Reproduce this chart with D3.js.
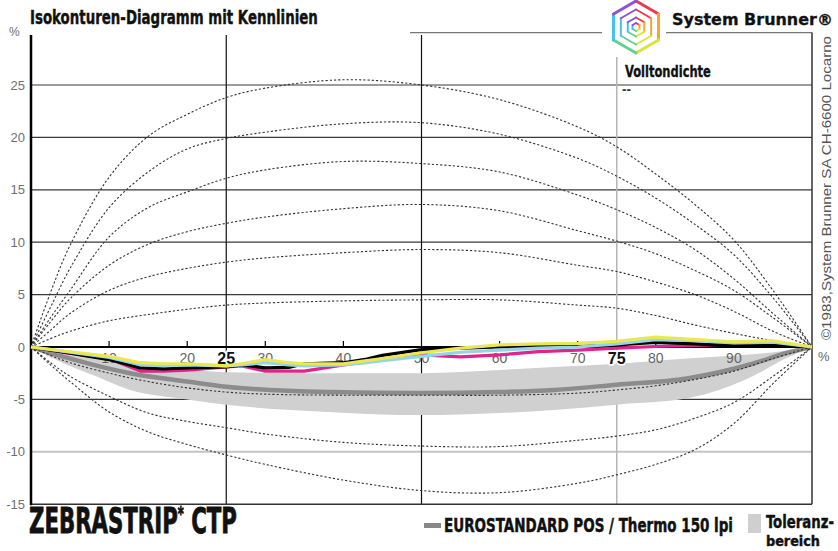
<!DOCTYPE html>
<html><head><meta charset="utf-8">
<script src="https://cdn.jsdelivr.net/npm/d3@7"></script>
<style>body{margin:0;background:#fff}svg{display:block}</style>
</head><body>
<script>
// ---------- data ----------
const yTicks = [-15,-10,-5,0,5,10,15,20,25];
const xTickLabels = [10,20,30,40,50,60,70,80,90];
const xBoldLabels = [25,75];

// iso-contour dotted curves (value at isoX)
const isoX = [0,2.5,5,10,15,20,25,30,40,50,60,70,75,80,85,90,95,100];
const isoA = [0,5.2,9.7,16.2,20.1,22.2,23.8,24.7,25.5,25.0,23.6,21.0,19.1,16.5,13.6,10.2,5.4,0];
const isoB = [0,3.8,7.5,13.3,16.7,18.9,19.9,20.5,21.3,21.4,20.3,18.0,16.3,14.2,11.7,8.8,4.7,0];
const isoC = [0,2.8,5.4,10.5,13.3,14.8,16.1,16.9,17.7,17.5,16.7,14.5,13.1,11.4,9.3,6.5,3.2,0];
const isoD = [0,2.4,4.6,7.8,9.8,11.0,11.8,12.4,13.2,13.6,13.0,11.1,10.1,8.9,7.3,5.4,2.8,0];
const isoE = [0,1.6,3.2,5.4,6.7,7.5,8.1,8.5,9.0,9.3,9.0,7.8,7.2,6.2,5.0,3.4,1.5,0];
const isoF = [0,0.8,1.5,2.5,3.1,3.6,4.0,4.2,4.4,4.5,4.5,4.0,3.7,3.0,2.1,1.3,0.6,0];
const isoG = [0,-0.8,-1.5,-2.5,-3.3,-3.9,-4.3,-4.5,-4.6,-4.6,-4.6,-4.4,-4.1,-3.7,-3.1,-2.3,-1.1,0];
const isoH = [0,-1.5,-2.8,-4.7,-6.3,-7.1,-7.7,-8.3,-9.1,-9.45,-9.5,-8.9,-8.5,-7.9,-6.8,-5.3,-2.8,0];
const isoI = [0,-1.7,-3.3,-6.2,-8.1,-9.3,-10.3,-11.2,-12.7,-13.7,-13.9,-13.0,-12.2,-11.2,-9.8,-7.3,-3.5,0];

// EUROSTANDARD reference + tolerance band
const stdX  = [0,4,8,12.7,20,25,38,50,60,67,75,84,92.4,96.6,100];
const stdY  = [0,-0.9,-1.7,-2.5,-3.3,-3.8,-4.3,-4.4,-4.3,-4.1,-3.6,-3.0,-1.6,-0.6,0];
const tolHi = [0,-0.5,-1.0,-1.6,-2.1,-2.4,-2.5,-2.5,-2.2,-1.9,-1.6,-1.1,-0.7,-0.35,0];
const tolLo = [0,-1.5,-2.7,-4.1,-5.0,-5.5,-6.2,-6.5,-6.3,-6.0,-5.5,-4.9,-2.8,-1.1,0];

// measured process colours
const inkX    = [0,5,10,14,17,20,25,27,30,33,35,40,43,45,50,55,60,65,70,75,80,85,90,95,100];
const yellow  = [0,-0.45,-0.9,-1.5,-1.6,-1.6,-1.8,-1.6,-1.2,-1.5,-1.6,-1.6,-1.3,-1.1,-0.55,-0.1,0.2,0.3,0.35,0.55,0.95,0.7,0.5,0.6,0];
const cyan    = [0,-0.5,-1.0,-1.7,-1.75,-1.7,-1.8,-1.7,-1.5,-1.7,-1.8,-1.7,-1.5,-1.3,-0.9,-0.5,-0.3,-0.1,0.0,0.3,0.7,0.6,0.4,0.45,0];
const black   = [0,-0.6,-1.2,-2.0,-2.1,-2.0,-1.9,-1.7,-2.0,-1.95,-1.6,-1.5,-1.15,-0.8,-0.25,-0.1,0,0.05,0.05,0.2,0.45,0.3,0.1,0.15,0];
const magenta = [0,-0.6,-1.1,-2.3,-2.3,-2.2,-1.9,-1.8,-2.3,-2.3,-2.3,-1.7,-1.4,-1.2,-0.75,-0.95,-0.75,-0.45,-0.3,-0.1,0.05,0.15,0.25,0.35,0];

// ---------- drawing ----------
const W = 838, H = 551;
const svg = d3.select("body").append("svg").attr("width", W).attr("height", H)
  .style("font-family", "'Liberation Sans', Arial, sans-serif");
svg.append("rect").attr("width", W).attr("height", H).attr("fill", "#fff");

const x = d3.scaleLinear().domain([0,100]).range([31,812]);
const y = d3.scaleLinear().domain([-15,30]).range([504.2,32.6]);
const narrow = "'DejaVu Sans Condensed','Liberation Sans',Arial,sans-serif";

// squeeze a text horizontally to a target width (condensed-type look)
function fit(t, w) {
  const len = t.node().getComputedTextLength();
  const x0 = +t.attr("x");
  const s = w / len;
  t.attr("transform", `translate(${x0},0) scale(${s},1) translate(${-x0},0)`);
  return t;
}
function heavy(t, sw) { return t.attr("stroke", "#111").attr("stroke-width", sw || 0.5); }

// horizontal grid
svg.append("g").selectAll("line").data(yTicks.filter(v => v !== 0 && v !== -15)).join("line")
  .attr("x1", x(0)).attr("x2", x(100)).attr("y1", d => y(d)).attr("y2", d => y(d))
  .attr("stroke", d => d === -10 ? "#c4c4c4" : "#3a3a3a").attr("stroke-width", d => d === -10 ? 2 : 1.2);

// top frame line
svg.append("line").attr("x1", 410).attr("x2", x(100)).attr("y1", y(30)).attr("y2", y(30))
  .attr("stroke", "#777").attr("stroke-width", 1.2);

// vertical lines
[25,50].forEach(v => svg.append("line").attr("x1", x(v)).attr("x2", x(v)).attr("y1", 35).attr("y2", y(-15))
  .attr("stroke", "#111").attr("stroke-width", 1.2));
svg.append("line").attr("x1", x(75)).attr("x2", x(75)).attr("y1", 57).attr("y2", y(-15))
  .attr("stroke", "#b5b5b5").attr("stroke-width", 1.5);
svg.append("line").attr("x1", x(100)).attr("x2", x(100)).attr("y1", y(30)).attr("y2", y(-15))
  .attr("stroke", "#333").attr("stroke-width", 1.5);
svg.append("line").attr("x1", x(0)).attr("x2", x(100)).attr("y1", y(-15)).attr("y2", y(-15))
  .attr("stroke", "#333").attr("stroke-width", 1.5);

// y labels
svg.append("g").selectAll("text").data(yTicks).join("text")
  .attr("x", 25).attr("y", d => y(d)).attr("dy", "0.35em").attr("text-anchor", "end")
  .attr("font-size", 13).attr("fill", "#707070").text(d => d);
svg.append("text").attr("x", 9).attr("y", 36).attr("font-size", 12).attr("fill", "#707070").text("%");

// tolerance band
const bandData = stdX.map((v,i) => ({x:v, hi:tolHi[i], lo:tolLo[i]}));
svg.append("path").datum(bandData)
  .attr("d", d3.area().x(d => x(d.x)).y0(d => y(d.lo)).y1(d => y(d.hi)).curve(d3.curveMonotoneX))
  .attr("fill", "#d0d0d0");
svg.append("path").datum(stdX.map((v,i) => [v, stdY[i]]))
  .attr("d", d3.line().x(d => x(d[0])).y(d => y(d[1])).curve(d3.curveMonotoneX))
  .attr("fill", "none").attr("stroke", "#8c8c8c").attr("stroke-width", 4.5);

// dotted iso curves
const isoLine = d3.line().x(d => x(d[0])).y(d => y(d[1])).curve(d3.curveCatmullRom.alpha(0.5));
[isoA,isoB,isoC,isoD,isoE,isoF,isoG,isoH,isoI].forEach(arr => {
  svg.append("path").datum(isoX.map((v,i) => [v, arr[i]])).attr("d", isoLine)
    .attr("fill", "none").attr("stroke", "#333").attr("stroke-width", 1.1).attr("stroke-dasharray", "2.2,2");
});

// left axis and zero line
svg.append("line").attr("x1", x(0)).attr("x2", x(0)).attr("y1", 35).attr("y2", y(-15)+1)
  .attr("stroke", "#000").attr("stroke-width", 2.5);
svg.append("line").attr("x1", x(0)).attr("x2", x(100)).attr("y1", y(0)).attr("y2", y(0))
  .attr("stroke", "#000").attr("stroke-width", 2);

// x ticks + labels
svg.append("g").selectAll("line").data(xTickLabels.filter(d => d !== 50)).join("line")
  .attr("x1", d => x(d)).attr("x2", d => x(d)).attr("y1", y(0) - 6).attr("y2", y(0))
  .attr("stroke", "#000").attr("stroke-width", 1.2);
svg.append("g").selectAll("text").data(xTickLabels).join("text")
  .attr("x", d => x(d)).attr("y", 363).attr("text-anchor", "middle")
  .attr("font-size", 14).attr("fill", "#666").text(d => d);
svg.append("g").selectAll("text").data(xBoldLabels).join("text")
  .attr("x", d => x(d)).attr("y", 364).attr("text-anchor", "middle")
  .attr("font-size", 16).attr("font-weight", "bold").attr("fill", "#111")
  .attr("stroke", "#fff").attr("stroke-width", 3).attr("paint-order", "stroke").text(d => d);
svg.append("text").attr("x", 818).attr("y", 361).attr("font-size", 13).attr("fill", "#666").text("%");

// measured colour lines
const inkLine = d3.line().x(d => x(d[0])).y(d => y(d[1])).curve(d3.curveLinear);
[[magenta,"#e2238c"],[black,"#000"],[cyan,"#92d6e6"],[yellow,"#ebe655"]].forEach(([arr,col]) => {
  svg.append("path").datum(inkX.map((v,i) => [v, arr[i]])).attr("d", inkLine)
    .attr("fill", "none").attr("stroke", col).attr("stroke-width", 3.2).attr("stroke-linejoin", "round");
});

// title
heavy(fit(svg.append("text").attr("x", 30).attr("y", 24).attr("font-family", narrow)
  .attr("font-weight", "bold").attr("font-size", 19).attr("fill", "#111")
  .text("Isokonturen-Diagramm mit Kennlinien"), 288), 0.4);

// logo
const lg = svg.append("g");
lg.append("rect").attr("x", 602).attr("y", 0).attr("width", 64).attr("height", 56).attr("fill", "#fff");
const cx = 636, cy = 27;
const edgeCols = ["#ec3b4e","#f7a335","#d8e53a","#63d38e","#45c3e6","#8b53d6"];
[26, 17.5, 9.5, 4].forEach((r, k) => {
  for (let i = 0; i < 6; i++) {
    const a1 = -Math.PI/2 + i*Math.PI/3, a2 = a1 + Math.PI/3;
    lg.append("line").attr("x1", cx + r*Math.cos(a1)).attr("y1", cy + r*Math.sin(a1))
      .attr("x2", cx + r*Math.cos(a2)).attr("y2", cy + r*Math.sin(a2))
      .attr("stroke", edgeCols[i]).attr("stroke-width", k === 0 ? 3 : 2).attr("stroke-linecap", "round");
  }
});
heavy(fit(svg.append("text").attr("x", 672).attr("y", 25).attr("font-family", "'DejaVu Sans',sans-serif")
  .attr("font-weight", "bold").attr("font-size", 15.5).attr("fill", "#111").text("System Brunner®"), 161), 0.3);
heavy(fit(svg.append("text").attr("x", 625).attr("y", 77).attr("font-family", narrow)
  .attr("font-weight", "bold").attr("font-size", 15.5).attr("fill", "#111").text("Volltondichte"), 86), 0.3);
svg.append("text").attr("x", 622).attr("y", 94).attr("font-family", narrow)
  .attr("font-weight", "bold").attr("font-size", 12).attr("fill", "#333").text("--");

// vertical copyright
svg.append("text").attr("transform", "translate(831,340) rotate(-90)")
  .attr("font-size", 13).attr("fill", "#555")
  .attr("textLength", 304).attr("lengthAdjust", "spacingAndGlyphs")
  .text("©1983,System Brunner SA CH-6600 Locarno");

// bottom texts
const zt = svg.append("text").attr("x", 29).attr("y", 533).attr("font-family", narrow)
  .attr("font-weight", "bold").attr("font-size", 35).attr("fill", "#111");
zt.append("tspan").text("ZEBRASTRIP");
zt.append("tspan").attr("font-size", 19).attr("dy", -13).text("*");
zt.append("tspan").attr("dy", 13).text(" CTP");
heavy(fit(zt, 208), 0.8);

svg.append("rect").attr("x", 424).attr("y", 523).attr("width", 17).attr("height", 5).attr("fill", "#888");
heavy(fit(svg.append("text").attr("x", 444).attr("y", 532).attr("font-family", narrow)
  .attr("font-weight", "bold").attr("font-size", 19).attr("fill", "#111")
  .text("EUROSTANDARD POS / Thermo 150 lpi"), 289), 0.45);
svg.append("rect").attr("x", 748).attr("y", 514).attr("width", 13).attr("height", 19).attr("fill", "#cfcfcf");
heavy(fit(svg.append("text").attr("x", 766).attr("y", 528).attr("font-family", narrow)
  .attr("font-weight", "bold").attr("font-size", 17).attr("fill", "#111").text("Toleranz-"), 68), 0.4);
heavy(fit(svg.append("text").attr("x", 766).attr("y", 546).attr("font-family", narrow)
  .attr("font-weight", "bold").attr("font-size", 14).attr("fill", "#111").text("bereich"), 54), 0.4);
</script>
</body></html>
